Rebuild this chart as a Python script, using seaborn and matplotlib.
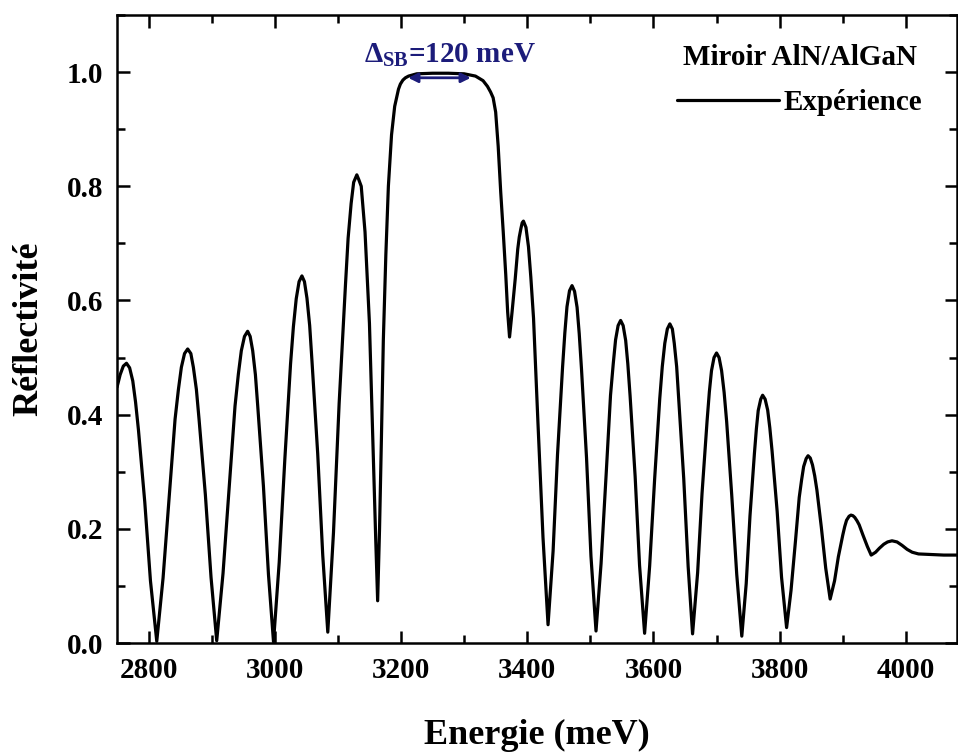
import matplotlib
matplotlib.use("Agg")
import matplotlib.pyplot as plt
import seaborn as sns
from matplotlib.ticker import MultipleLocator

# reflectivity spectrum (meV, R)
energy_meV = [
    2750, 2755, 2760, 2765, 2770, 2775, 2779.4, 2784, 2794, 2803, 2813,
    2823, 2833, 2842, 2847.3, 2852, 2857, 2862, 2867, 2871, 2875.8, 2880, 2890, 2899, 2908,
    2918, 2928, 2937, 2942.3, 2947, 2952, 2957, 2961, 2965, 2969.3, 2973, 2982, 2990, 2998,
    3007, 3016, 3025, 3029.5, 3034, 3038.5, 3043, 3047, 3051, 3055.3, 3059, 3068, 3076, 3084,
    3093, 3102, 3112, 3116.2, 3121, 3125, 3130, 3133, 3137, 3143, 3150, 3156, 3160, 3163,
    3166, 3169, 3172, 3176, 3180, 3185, 3190, 3196, 3199, 3203, 3207, 3212, 3225, 3250,
    3275, 3300, 3318, 3330, 3337, 3342, 3346, 3350, 3354, 3358, 3362, 3366,
    3369, 3372,
    3376, 3381, 3385, 3387.4, 3390, 3392, 3394, 3398, 3402, 3405.7, 3410, 3417, 3425, 3433,
    3441, 3448, 3456, 3459.6, 3463, 3467, 3471, 3475, 3479, 3482.4, 3486, 3494, 3501, 3509,
    3517, 3525, 3532, 3536.3, 3540, 3544, 3548, 3552, 3556, 3559.4, 3563, 3571, 3578, 3586,
    3594, 3602, 3610, 3614, 3618, 3622, 3626, 3630, 3633, 3636.8, 3640, 3648, 3655, 3662,
    3670, 3677, 3685, 3688.6, 3692, 3696, 3700, 3704, 3708, 3712, 3716, 3724, 3732, 3740,
    3747, 3753, 3760, 3763.1, 3766, 3770, 3773, 3777, 3781, 3784.4, 3788, 3796, 3803, 3811,
    3818, 3825, 3831, 3834.8, 3838, 3842, 3845, 3848.5, 3852, 3855.5, 3859, 3866, 3873, 3880,
    3887, 3893, 3900, 3903.1, 3906, 3910, 3913, 3916, 3919, 3922.6, 3926, 3932, 3939, 3945,
    3952, 3958, 3965, 3971, 3978, 3986, 3994, 4002, 4010, 4020, 4040, 4060,
    4081,
]
reflectivity = [
    0.448, 0.470, 0.485, 0.490, 0.482, 0.459, 0.422, 0.373, 0.247, 0.109, 0.003,
    0.114, 0.260, 0.392, 0.444, 0.483, 0.507, 0.515, 0.507, 0.483, 0.444, 0.392, 0.260, 0.115, 0.004,
    0.122, 0.276, 0.415, 0.471, 0.512, 0.537, 0.546, 0.537, 0.512, 0.470, 0.415, 0.275, 0.120, 0.002,
    0.141, 0.323, 0.489, 0.554, 0.603, 0.633, 0.643, 0.633, 0.604, 0.556, 0.493, 0.332, 0.154, 0.019,
    0.193, 0.420, 0.627, 0.709, 0.770, 0.807, 0.820, 0.812, 0.800, 0.720, 0.560, 0.330, 0.180, 0.074,
    0.200, 0.360, 0.530, 0.680, 0.800, 0.890, 0.940, 0.970, 0.979, 0.986, 0.990, 0.993, 0.997, 0.998,
    0.998, 0.997, 0.993, 0.985, 0.975, 0.965, 0.955, 0.930, 0.870, 0.790, 0.720, 0.645,
    0.580, 0.536,
    0.580, 0.638, 0.690, 0.711, 0.726, 0.736, 0.739, 0.728, 0.694, 0.641, 0.569, 0.386, 0.185, 0.032,
    0.161, 0.330, 0.483, 0.543, 0.589, 0.617, 0.626, 0.616, 0.588, 0.542, 0.480, 0.324, 0.152, 0.021,
    0.139, 0.294, 0.434, 0.489, 0.531, 0.556, 0.565, 0.556, 0.530, 0.489, 0.433, 0.292, 0.136, 0.017,
    0.135, 0.289, 0.428, 0.484, 0.525, 0.550, 0.559, 0.550, 0.525, 0.484, 0.428, 0.288, 0.134, 0.016,
    0.123, 0.262, 0.389, 0.440, 0.477, 0.500, 0.508, 0.500, 0.477, 0.439, 0.388, 0.260, 0.120, 0.012,
    0.104, 0.223, 0.332, 0.375, 0.407, 0.427, 0.434, 0.427, 0.408, 0.377, 0.336, 0.231, 0.115, 0.027,
    0.092, 0.178, 0.255, 0.286, 0.309, 0.323, 0.328, 0.324, 0.312, 0.293, 0.268, 0.203, 0.131, 0.077,
    0.109, 0.151, 0.189, 0.204, 0.215, 0.222, 0.224, 0.223, 0.220, 0.214, 0.207, 0.189, 0.169, 0.154,
    0.159, 0.166, 0.173, 0.177, 0.179, 0.177, 0.171, 0.164, 0.159, 0.156, 0.155, 0.154,
    0.154,
]

stopband_edges = [3207, 3315]
stopband_label = "Δ$_{\\mathregular{SB}}$=120 meV"
navy = "#1c1c7a"

sns.set_style("ticks")
plt.rcParams["font.family"] = ["Liberation Serif", "DejaVu Serif"]
plt.rcParams["font.weight"] = "bold"
plt.rcParams["axes.labelweight"] = "bold"
plt.rcParams["axes.edgecolor"] = "black"
plt.rcParams["axes.labelcolor"] = "black"
plt.rcParams["text.color"] = "black"
plt.rcParams["xtick.color"] = "black"
plt.rcParams["ytick.color"] = "black"

fig = plt.figure(figsize=(9.58, 7.53), dpi=100)
ax = fig.add_axes([117 / 958, 1 - 643 / 753, (957 - 117) / 958, (643 - 15) / 753])

sns.lineplot(x=energy_meV, y=reflectivity, ax=ax, color="black", linewidth=2.3,
             label="Expérience", sort=False)
ax.lines[0].set_solid_joinstyle("round")

ax.set_xlim(2750, 4081)
ax.set_ylim(0, 1.1)
ax.xaxis.set_major_locator(MultipleLocator(200))
ax.xaxis.set_minor_locator(MultipleLocator(100))
ax.yaxis.set_major_locator(MultipleLocator(0.2))
ax.yaxis.set_minor_locator(MultipleLocator(0.1))
ax.tick_params(which="both", direction="in", top=True, right=True, width=1.8,
               labelsize=21, pad=10)
ax.tick_params(which="major", length=9)
ax.tick_params(which="minor", length=6)
for s in ax.spines.values():
    s.set_linewidth(1.8)

ax.set_xlabel("Energie (meV)", fontsize=26, labelpad=25)
ax.set_ylabel("Réflectivité", fontsize=26, labelpad=15)

ax.annotate("", xy=(stopband_edges[0], 0.99), xytext=(stopband_edges[1], 0.99),
            arrowprops=dict(arrowstyle="<|-|>", color=navy, lw=2, mutation_scale=14))
ax.text(3142, 1.017, stopband_label, color=navy, fontsize=21, fontweight="bold",
        ha="left", va="baseline")

ax.legend(title="Miroir AlN/AlGaN", loc="upper right", bbox_to_anchor=(0.990, 0.995),
          frameon=False, handlelength=3.5, handletextpad=0.15, labelspacing=0.6,
          prop={"weight": "bold", "size": 21},
          title_fontproperties={"weight": "bold", "size": 21})

fig.savefig("out.png", dpi=100)
plt.close()
